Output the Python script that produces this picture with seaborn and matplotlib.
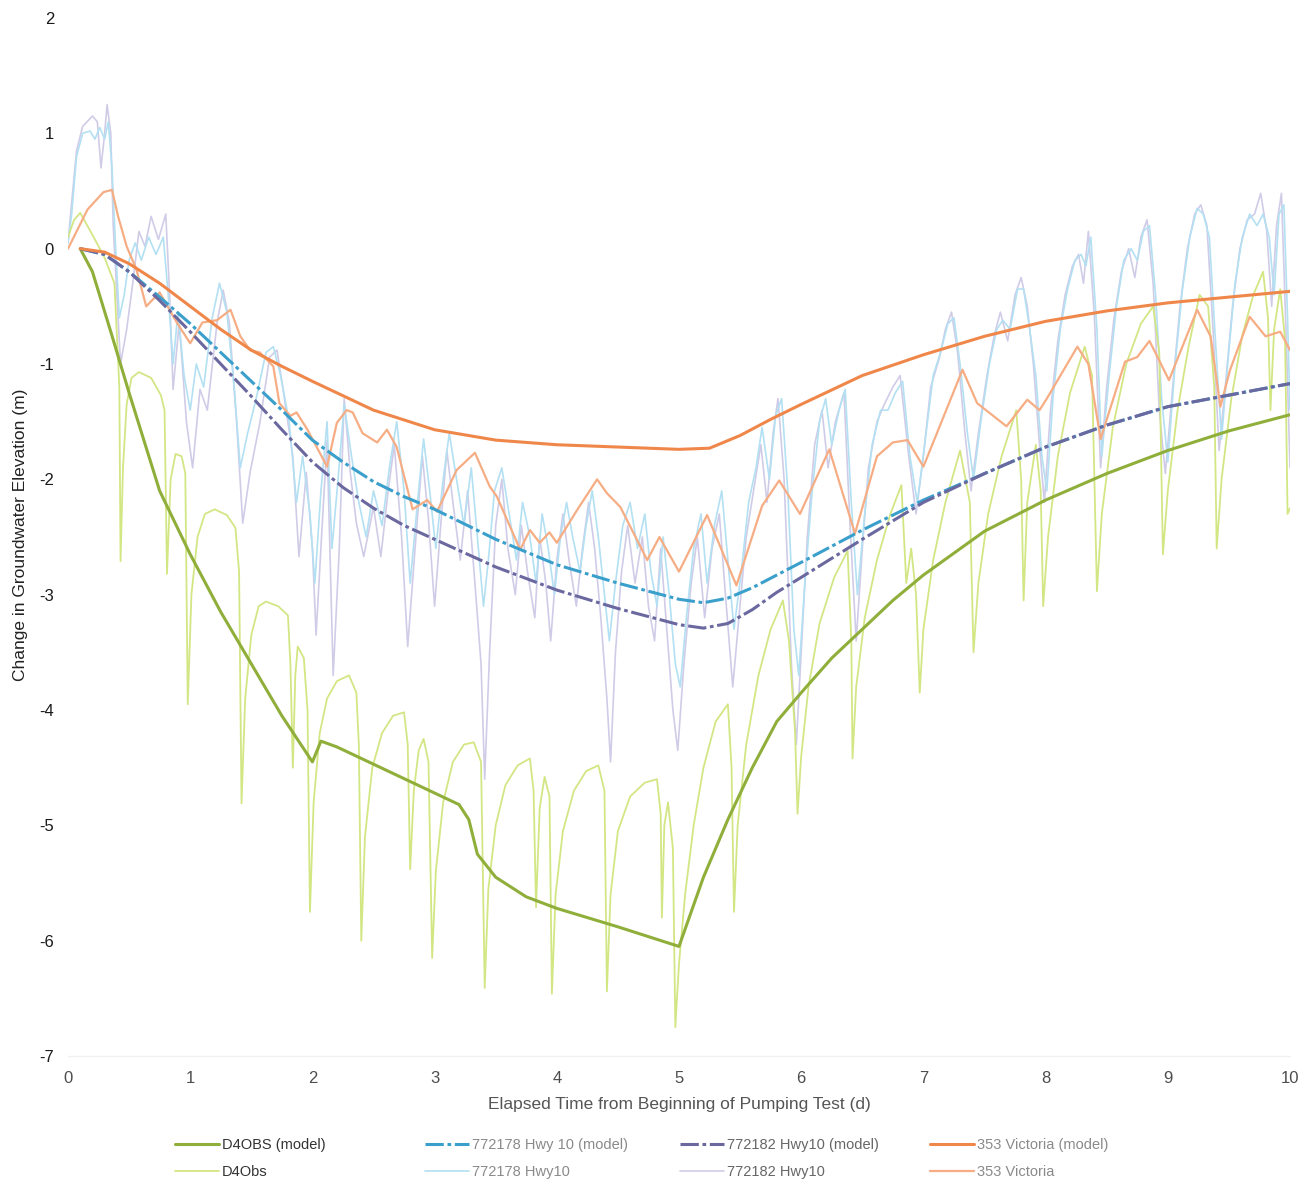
import numpy as np
import pandas as pd
import matplotlib
matplotlib.use("Agg")
import matplotlib.pyplot as plt
import seaborn as sns


# ---- data ----
d4_model_days = [0.1, 0.2, 0.35, 0.5, 0.75, 1.0, 1.25, 1.5, 1.75, 2.0, 2.07, 2.2, 2.5, 2.8,
                 3.0, 3.2, 3.28, 3.35, 3.5, 3.75, 4.0, 4.5, 5.0, 5.2, 5.4, 5.6, 5.8, 6.0,
                 6.25, 6.5, 6.75, 7.0, 7.5, 8.0, 8.5, 9.0, 9.5, 10.0]
d4_model_vals = [0.0, -0.2, -0.72, -1.25, -2.1, -2.65, -3.15, -3.6, -4.05, -4.45, -4.27,
                 -4.32, -4.47, -4.62, -4.72, -4.82, -4.95, -5.25, -5.45, -5.62, -5.72,
                 -5.88, -6.05, -5.45, -4.95, -4.5, -4.1, -3.85, -3.55, -3.3, -3.05, -2.83,
                 -2.45, -2.18, -1.95, -1.75, -1.58, -1.44]

d4_obs_days = [0.0, 0.05, 0.1, 0.2, 0.3, 0.38, 0.42, 0.43, 0.45, 0.48, 0.52, 0.58, 0.68,
               0.76, 0.79, 0.81, 0.84, 0.88, 0.93, 0.96, 0.98, 1.01, 1.06, 1.12, 1.2, 1.3,
               1.37, 1.4, 1.42, 1.45, 1.5, 1.56, 1.62, 1.72, 1.8, 1.82, 1.84, 1.86, 1.88,
               1.93, 1.96, 1.98, 2.01, 2.06, 2.12, 2.2, 2.3, 2.36, 2.38, 2.4, 2.43, 2.49,
               2.57, 2.66, 2.75, 2.78, 2.8, 2.83, 2.87, 2.91, 2.95, 2.98, 3.01, 3.07, 3.15,
               3.24, 3.32, 3.38, 3.41, 3.44, 3.5, 3.58, 3.68, 3.78, 3.81, 3.83, 3.86, 3.9,
               3.94, 3.96, 3.99, 4.05, 4.14, 4.24, 4.34, 4.39, 4.41, 4.44, 4.5, 4.6, 4.72,
               4.82, 4.85, 4.86, 4.88, 4.91, 4.95, 4.97, 5.0, 5.05, 5.12, 5.2, 5.3, 5.4,
               5.43, 5.45, 5.48, 5.55, 5.65, 5.75, 5.85, 5.9, 5.95, 5.97, 6.0, 6.06, 6.15,
               6.27, 6.38, 6.41, 6.42, 6.45, 6.52, 6.62, 6.73, 6.82, 6.86, 6.9, 6.94, 6.97,
               7.0, 7.08, 7.18, 7.3, 7.38, 7.41, 7.45, 7.53, 7.64, 7.76, 7.8, 7.82, 7.85,
               7.92, 7.96, 7.98, 8.02, 8.1, 8.2, 8.32, 8.38, 8.42, 8.46, 8.55, 8.66, 8.78,
               8.88, 8.93, 8.96, 9.0, 9.08, 9.17, 9.26, 9.33, 9.38, 9.4, 9.44, 9.52, 9.61,
               9.7, 9.78, 9.82, 9.84, 9.87, 9.92, 9.96, 9.98, 10.0]
d4_obs_vals = [0.1, 0.25, 0.31, 0.12, -0.08, -0.3, -1.2, -2.71, -1.9, -1.35, -1.12, -1.07,
               -1.12, -1.27, -1.4, -2.82, -2.0, -1.78, -1.8, -1.95, -3.95, -3.0, -2.5, -2.3,
               -2.26, -2.31, -2.42, -2.8, -4.81, -3.9, -3.35, -3.1, -3.06, -3.1, -3.18,
               -3.6, -4.5, -3.7, -3.45, -3.55, -4.0, -5.75, -4.8, -4.2, -3.9, -3.75, -3.7,
               -3.85, -4.3, -6.0, -5.1, -4.5, -4.2, -4.05, -4.02, -4.3, -5.38, -4.7, -4.35,
               -4.25, -4.45, -6.15, -5.4, -4.8, -4.45, -4.3, -4.28, -4.45, -6.41, -5.55,
               -5.0, -4.65, -4.48, -4.42, -4.7, -5.71, -4.85, -4.58, -4.75, -6.46, -5.6,
               -5.05, -4.7, -4.53, -4.48, -4.7, -6.44, -5.6, -5.05, -4.75, -4.63, -4.6,
               -4.9, -5.8, -5.0, -4.8, -5.2, -6.75, -6.2, -5.6, -5.0, -4.5, -4.1, -3.95,
               -4.5, -5.75, -5.0, -4.3, -3.7, -3.3, -3.05, -3.4, -4.2, -4.9, -4.4, -3.8,
               -3.25, -2.85, -2.62, -3.4, -4.42, -3.8, -3.2, -2.7, -2.3, -2.05, -2.9, -2.6,
               -3.0, -3.85, -3.3, -2.7, -2.2, -1.75, -2.2, -3.5, -2.9, -2.3, -1.8, -1.4,
               -2.0, -3.05, -2.2, -1.7, -2.1, -3.1, -2.5, -1.8, -1.25, -0.85, -1.1, -2.97,
               -2.3, -1.55, -1.0, -0.65, -0.5, -0.9, -2.65, -2.1, -1.4, -0.85, -0.4, -0.5,
               -1.2, -2.6, -2.0, -1.3, -0.75, -0.4, -0.2, -0.6, -1.4, -0.7, -0.35, -0.8,
               -2.3, -2.25]

hwy178_model_days = [0.1, 0.3, 0.5, 0.75, 1.0, 1.25, 1.5, 1.75, 2.0, 2.25, 2.5, 2.75, 3.0,
                     3.5, 4.0, 4.5, 5.0, 5.2, 5.4, 5.6, 5.8, 6.0, 6.5, 7.0, 7.5, 8.0, 8.5,
                     9.0, 9.5, 10.0]
hwy178_model_vals = [0.0, -0.05, -0.2, -0.42, -0.65, -0.9, -1.15, -1.4, -1.66, -1.85,
                     -2.02, -2.15, -2.26, -2.52, -2.74, -2.9, -3.04, -3.07, -3.03, -2.94,
                     -2.83, -2.72, -2.44, -2.18, -1.95, -1.72, -1.53, -1.37, -1.27, -1.17]

hwy182_model_days = [0.1, 0.3, 0.5, 0.75, 1.0, 1.25, 1.5, 1.75, 2.0, 2.25, 2.5, 2.75, 3.0,
                     3.5, 4.0, 4.5, 5.0, 5.2, 5.4, 5.6, 5.8, 6.0, 6.5, 7.0, 7.5, 8.0, 8.5,
                     9.0, 9.5, 10.0]
hwy182_model_vals = [0.0, -0.05, -0.2, -0.45, -0.72, -1.0, -1.28, -1.57, -1.85, -2.07,
                     -2.25, -2.4, -2.52, -2.76, -2.96, -3.12, -3.26, -3.29, -3.25, -3.13,
                     -2.98, -2.85, -2.52, -2.2, -1.95, -1.72, -1.53, -1.37, -1.27, -1.17]

vic_model_days = [0.1, 0.3, 0.5, 0.75, 1.0, 1.25, 1.5, 1.75, 2.0, 2.5, 3.0, 3.5, 4.0, 4.5,
                  5.0, 5.25, 5.5, 5.75, 6.0, 6.5, 7.0, 7.5, 8.0, 8.5, 9.0, 9.5, 10.0]
vic_model_vals = [0.0, -0.03, -0.13, -0.3, -0.5, -0.7, -0.88, -1.02, -1.15, -1.4, -1.57,
                  -1.66, -1.7, -1.72, -1.74, -1.73, -1.62, -1.48, -1.35, -1.1, -0.92,
                  -0.76, -0.63, -0.54, -0.47, -0.42, -0.37]

vic_obs_days = [0.0, 0.16, 0.29, 0.36, 0.41, 0.48, 0.56, 0.64, 0.75, 0.89, 1.0, 1.1, 1.22,
                1.33, 1.41, 1.49, 1.57, 1.68, 1.73, 1.82, 1.87, 1.96, 2.06, 2.12, 2.2, 2.28,
                2.33, 2.41, 2.53, 2.61, 2.69, 2.82, 2.94, 3.02, 3.18, 3.33, 3.45, 3.51, 3.7,
                3.78, 3.86, 3.94, 4.0, 4.17, 4.33, 4.41, 4.52, 4.74, 4.84, 5.0, 5.23, 5.47,
                5.68, 5.82, 5.99, 6.23, 6.44, 6.62, 6.75, 6.87, 7.0, 7.32, 7.44, 7.68, 7.85,
                7.95, 8.01, 8.26, 8.35, 8.45, 8.65, 8.75, 8.85, 9.01, 9.24, 9.35, 9.43, 9.51,
                9.67, 9.8, 9.92, 10.0]
vic_obs_vals = [0.0, 0.34, 0.49, 0.51, 0.28, 0.02, -0.18, -0.5, -0.38, -0.64, -0.82, -0.64,
                -0.62, -0.53, -0.76, -0.88, -0.9, -1.02, -1.34, -1.45, -1.42, -1.57, -1.77,
                -1.89, -1.51, -1.4, -1.42, -1.6, -1.68, -1.57, -1.72, -2.26, -2.18, -2.28,
                -1.92, -1.77, -2.06, -2.15, -2.61, -2.44, -2.55, -2.46, -2.55, -2.26, -2.0,
                -2.12, -2.24, -2.7, -2.5, -2.8, -2.31, -2.92, -2.23, -2.01, -2.3, -1.74,
                -2.47, -1.8, -1.68, -1.66, -1.89, -1.05, -1.34, -1.54, -1.31, -1.4, -1.3,
                -0.85, -1.0, -1.65, -0.98, -0.94, -0.8, -1.14, -0.53, -0.76, -1.37, -1.05,
                -0.59, -0.76, -0.72, -0.88]

hwy182_obs_days = [0.0, 0.03, 0.07, 0.12, 0.2, 0.24, 0.27, 0.3, 0.32, 0.35, 0.37, 0.4, 0.43,
                   0.48, 0.53, 0.58, 0.63, 0.68, 0.74, 0.8, 0.83, 0.86, 0.91, 0.97, 1.02,
                   1.08, 1.14, 1.22, 1.27, 1.32, 1.38, 1.43, 1.49, 1.57, 1.65, 1.71, 1.76,
                   1.84, 1.89, 1.95, 2.0, 2.03, 2.08, 2.12, 2.17, 2.22, 2.26, 2.31, 2.36,
                   2.42, 2.5, 2.56, 2.62, 2.67, 2.73, 2.78, 2.84, 2.9, 2.95, 3.0, 3.05, 3.1,
                   3.15, 3.21, 3.27, 3.33, 3.38, 3.41, 3.45, 3.5, 3.55, 3.6, 3.66, 3.71,
                   3.76, 3.82, 3.86, 3.91, 3.95, 4.0, 4.05, 4.1, 4.16, 4.21, 4.26, 4.31,
                   4.36, 4.41, 4.44, 4.48, 4.53, 4.58, 4.64, 4.7, 4.75, 4.8, 4.85, 4.9,
                   4.95, 4.99, 5.04, 5.1, 5.15, 5.21, 5.27, 5.33, 5.38, 5.44, 5.49, 5.55,
                   5.61, 5.67, 5.72, 5.77, 5.81, 5.86, 5.92, 5.96, 6.0, 6.05, 6.11, 6.17,
                   6.22, 6.28, 6.35, 6.4, 6.45, 6.5, 6.55, 6.62, 6.68, 6.75, 6.81, 6.88,
                   6.94, 7.0, 7.06, 7.13, 7.18, 7.23, 7.28, 7.34, 7.39, 7.45, 7.52, 7.58,
                   7.63, 7.69, 7.75, 7.8, 7.85, 7.9, 7.95, 7.99, 8.04, 8.1, 8.16, 8.22,
                   8.27, 8.31, 8.35, 8.4, 8.45, 8.5, 8.56, 8.62, 8.68, 8.73, 8.78, 8.83,
                   8.88, 8.93, 8.98, 9.04, 9.1, 9.16, 9.22, 9.27, 9.32, 9.37, 9.42, 9.47,
                   9.53, 9.59, 9.65, 9.71, 9.76, 9.81, 9.85, 9.89, 9.93, 9.97, 10.0]
hwy182_obs_vals = [0.05, 0.4, 0.85, 1.06, 1.15, 1.1, 0.7, 1.0, 1.25, 1.0, 0.2, -0.4, -1.0,
                   -0.7, -0.3, 0.15, 0.02, 0.28, 0.08, 0.3, -0.36, -1.22, -0.64, -1.51,
                   -1.9, -1.22, -1.4, -0.64, -0.36, -0.64, -1.51, -2.38, -1.94, -1.51,
                   -0.94, -0.88, -1.22, -1.8, -2.67, -1.94, -2.6, -3.35, -2.4, -1.66, -3.7,
                   -2.6, -1.3, -1.94, -2.38, -2.67, -2.24, -2.67, -2.1, -1.7, -2.5, -3.45,
                   -2.6, -1.8, -2.35, -3.1, -2.4, -1.75, -2.2, -2.7, -2.1, -2.9, -3.6, -4.6,
                   -3.5, -2.4, -2.0, -2.6, -3.0, -2.4, -2.8, -3.2, -2.5, -2.9, -3.4, -2.7,
                   -2.3, -2.7, -3.1, -2.6, -2.2, -2.6, -3.2, -3.9, -4.45, -3.5, -2.8, -2.4,
                   -2.9, -2.5, -3.1, -3.4, -2.6, -3.3, -4.0, -4.35, -3.6, -2.9, -2.5, -3.2,
                   -2.6, -2.3, -3.0, -3.8, -3.2, -2.5, -2.1, -1.7, -2.2, -1.6, -1.3, -2.0,
                   -3.6, -4.3, -3.5, -2.5, -1.7, -1.4, -1.9, -1.5, -1.25, -2.4, -3.4, -2.6,
                   -1.9, -1.5, -1.35, -1.2, -1.1, -1.8, -2.3, -1.8, -1.2, -0.95, -0.7,
                   -0.55, -0.9, -1.6, -2.1, -1.6, -1.1, -0.75, -0.55, -0.8, -0.4, -0.25,
                   -0.5, -1.0, -1.7, -2.2, -1.4, -0.8, -0.4, -0.15, -0.05, -0.3, 0.15,
                   -0.6, -1.9, -1.2, -0.6, -0.2, 0.0, -0.25, 0.1, 0.25, -0.3, -1.4, -1.95,
                   -1.2, -0.5, 0.0, 0.3, 0.38, 0.2, -0.7, -1.75, -1.2, -0.5, 0.0, 0.25,
                   0.3, 0.48, 0.15, -0.5, 0.2, 0.48, -0.8, -1.9]

hwy178_obs_days = [0.0, 0.03, 0.07, 0.12, 0.18, 0.22, 0.26, 0.3, 0.33, 0.36, 0.39, 0.42,
                   0.46, 0.5, 0.55, 0.6, 0.66, 0.72, 0.78, 0.82, 0.86, 0.9, 0.95, 1.0,
                   1.05, 1.11, 1.18, 1.24, 1.3, 1.36, 1.41, 1.47, 1.54, 1.62, 1.68, 1.74,
                   1.81, 1.87, 1.92, 1.98, 2.02, 2.07, 2.12, 2.16, 2.21, 2.26, 2.32, 2.38,
                   2.44, 2.5, 2.57, 2.63, 2.69, 2.75, 2.8, 2.86, 2.91, 2.96, 3.01, 3.07,
                   3.12, 3.18, 3.24, 3.3, 3.35, 3.4, 3.44, 3.49, 3.55, 3.61, 3.67, 3.72,
                   3.78, 3.83, 3.88, 3.93, 3.98, 4.03, 4.08, 4.13, 4.19, 4.24, 4.29, 4.34,
                   4.39, 4.43, 4.48, 4.54, 4.6, 4.66, 4.72, 4.77, 4.82, 4.87, 4.92, 4.97,
                   5.01, 5.06, 5.12, 5.18, 5.23, 5.29, 5.35, 5.4, 5.45, 5.51, 5.57, 5.63,
                   5.68, 5.74, 5.79, 5.84, 5.89, 5.94, 5.98, 6.03, 6.09, 6.15, 6.2, 6.25,
                   6.31, 6.36, 6.41, 6.46, 6.52, 6.58, 6.65, 6.71, 6.77, 6.83, 6.89, 6.95,
                   7.01, 7.08, 7.14, 7.2, 7.25, 7.3, 7.36, 7.41, 7.47, 7.54, 7.6, 7.65,
                   7.71, 7.77, 7.82, 7.87, 7.92, 7.97, 8.01, 8.06, 8.12, 8.18, 8.24, 8.29,
                   8.33, 8.37, 8.42, 8.46, 8.52, 8.58, 8.64, 8.7, 8.75, 8.8, 8.85, 8.9,
                   8.95, 9.0, 9.06, 9.12, 9.18, 9.24, 9.29, 9.34, 9.39, 9.44, 9.49, 9.55,
                   9.61, 9.67, 9.73, 9.78, 9.83, 9.87, 9.91, 9.95, 9.98, 10.0]
hwy178_obs_vals = [0.05, 0.3, 0.8, 1.0, 1.02, 0.95, 1.05, 0.95, 1.1, 0.7, 0.0, -0.6, -0.4,
                   -0.1, 0.05, -0.1, 0.1, -0.05, 0.1, -0.4, -1.0, -0.55, -1.1, -1.4, -1.0,
                   -1.2, -0.6, -0.3, -0.55, -1.2, -1.9, -1.6, -1.3, -0.9, -0.85, -1.1,
                   -1.5, -2.2, -1.8, -2.3, -2.9, -2.1, -1.5, -2.6, -2.0, -1.35, -1.8, -2.2,
                   -2.5, -2.1, -2.4, -1.9, -1.5, -2.1, -2.9, -2.2, -1.65, -2.1, -2.6, -2.0,
                   -1.6, -2.0, -2.4, -1.9, -2.5, -3.1, -2.7, -2.1, -1.9, -2.3, -2.7, -2.2,
                   -2.5, -2.9, -2.3, -2.6, -3.0, -2.5, -2.2, -2.5, -2.8, -2.4, -2.1, -2.5,
                   -3.0, -3.4, -2.9, -2.4, -2.2, -2.6, -2.3, -2.8, -3.1, -2.5, -3.0, -3.6,
                   -3.8, -3.2, -2.6, -2.3, -2.9, -2.4, -2.1, -2.7, -3.3, -2.8, -2.2, -1.9,
                   -1.55, -2.0, -1.45, -1.3, -2.1, -3.3, -3.7, -2.9, -2.1, -1.5, -1.3,
                   -1.7, -1.4, -1.22, -2.2, -3.0, -2.3, -1.7, -1.4, -1.4, -1.25, -1.15,
                   -1.8, -2.2, -1.7, -1.1, -0.9, -0.65, -0.6, -1.0, -1.6, -2.0, -1.5, -1.0,
                   -0.7, -0.62, -0.7, -0.35, -0.35, -0.7, -1.1, -1.8, -2.1, -1.3, -0.7,
                   -0.35, -0.1, -0.05, -0.15, 0.1, -0.7, -1.8, -1.1, -0.5, -0.1, 0.0, -0.1,
                   0.15, 0.2, -0.4, -1.3, -1.85, -1.0, -0.35, 0.1, 0.35, 0.3, 0.1, -0.8,
                   -1.65, -1.0, -0.3, 0.1, 0.3, 0.2, 0.3, 0.1, -0.4, 0.3, 0.38, -0.6, -1.4]

x_ticks = [0, 1, 2, 3, 4, 5, 6, 7, 8, 9, 10]
y_ticks = [-7, -6, -5, -4, -3, -2, -1, 0, 1, 2]

# ---- styling ----
COL_D4_MODEL = "#8fae3a"
COL_D4_OBS = "#d3e684"
COL_178_MODEL = "#3a9fcb"
COL_178_OBS = "#b3e0f2"
COL_182_MODEL = "#6b68a0"
COL_182_OBS = "#d0cce8"
COL_VIC_MODEL = "#f0874a"
COL_VIC_OBS = "#f6ad84"
DASH_DOT = (0, (6, 1.2, 1.2, 1.2))

sns.set_theme(style="white")
plt.rcParams["font.family"] = ["Liberation Sans", "DejaVu Sans"]

W, H = 1314, 1184
fig = plt.figure(figsize=(W / 100, H / 100), dpi=100)
ax = fig.add_axes([68 / W, 1 - 1056 / H, (1290 - 68) / W, (1056 - 18) / H])

series = [
    # observed series underneath
    (hwy182_obs_days, hwy182_obs_vals, COL_182_OBS, 1.2, "-", "772182 Hwy10"),
    (hwy178_obs_days, hwy178_obs_vals, COL_178_OBS, 1.2, "-", "772178 Hwy10"),
    (d4_obs_days, d4_obs_vals, COL_D4_OBS, 1.3, "-", "D4Obs"),
    (vic_obs_days, vic_obs_vals, COL_VIC_OBS, 1.6, "-", "353 Victoria"),
    # model curves on top
    (d4_model_days, d4_model_vals, COL_D4_MODEL, 2.2, "-", "D4OBS (model)"),
    (hwy178_model_days, hwy178_model_vals, COL_178_MODEL, 2.2, DASH_DOT, "772178 Hwy 10 (model)"),
    (hwy182_model_days, hwy182_model_vals, COL_182_MODEL, 2.2, DASH_DOT, "772182 Hwy10 (model)"),
    (vic_model_days, vic_model_vals, COL_VIC_MODEL, 2.2, "-", "353 Victoria (model)"),
]

handles = {}
for days, vals, color, lw, ls, label in series:
    frame = pd.DataFrame({"day": days, "value": vals})
    sns.lineplot(data=frame, x="day", y="value", ax=ax, color=color, linewidth=lw,
                 linestyle=ls, sort=False, estimator=None, label=label)
    handles[label] = ax.get_lines()[-1]

if ax.get_legend() is not None:
    ax.get_legend().remove()

ax.set_xlim(0, 10)
ax.set_ylim(-7, 2)
ax.set_xticks(x_ticks)
ax.set_yticks(y_ticks)
ax.set_xticklabels([str(t) for t in x_ticks], fontsize=12, color="#4d4d4d")
ax.set_yticklabels([str(t) for t in y_ticks], fontsize=12, color="#1a1a1a")
ax.tick_params(axis="both", length=0)
ax.tick_params(axis="x", pad=11)
ax.tick_params(axis="y", pad=10)
ax.set_xlabel("")
ax.set_ylabel("")
ax.grid(False)
for side in ["top", "right", "left"]:
    ax.spines[side].set_visible(False)
ax.spines["bottom"].set_color("#f0f0f0")
ax.spines["bottom"].set_linewidth(1.0)

fig.text(679 / W, 1 - 1104 / H, "Elapsed Time from Beginning of Pumping Test (d)",
         ha="center", va="center", fontsize=12.5, color="#555555")
fig.text(21 / W, 1 - 535 / H, "Change in Groundwater Elevation (m)",
         ha="center", va="center", rotation=90, fontsize=12.5, color="#222222")

legend_columns = [
    (175, ["D4OBS (model)", "D4Obs"], "#333333"),
    (425, ["772178 Hwy 10 (model)", "772178 Hwy10"], "#8a8a8a"),
    (680, ["772182 Hwy10 (model)", "772182 Hwy10"], "#666666"),
    (930, ["353 Victoria (model)", "353 Victoria"], "#8a8a8a"),
]
for x_px, labels, text_color in legend_columns:
    leg = fig.legend([handles[l] for l in labels], labels, loc="upper left",
                     bbox_to_anchor=(x_px / W, 1 - 1138 / H), frameon=False,
                     fontsize=10.5, handlelength=3.0, handletextpad=0.2,
                     labelspacing=0.9, borderpad=0, borderaxespad=0)
    for txt in leg.get_texts():
        txt.set_color(text_color)

fig.savefig("out.png", dpi=100)
